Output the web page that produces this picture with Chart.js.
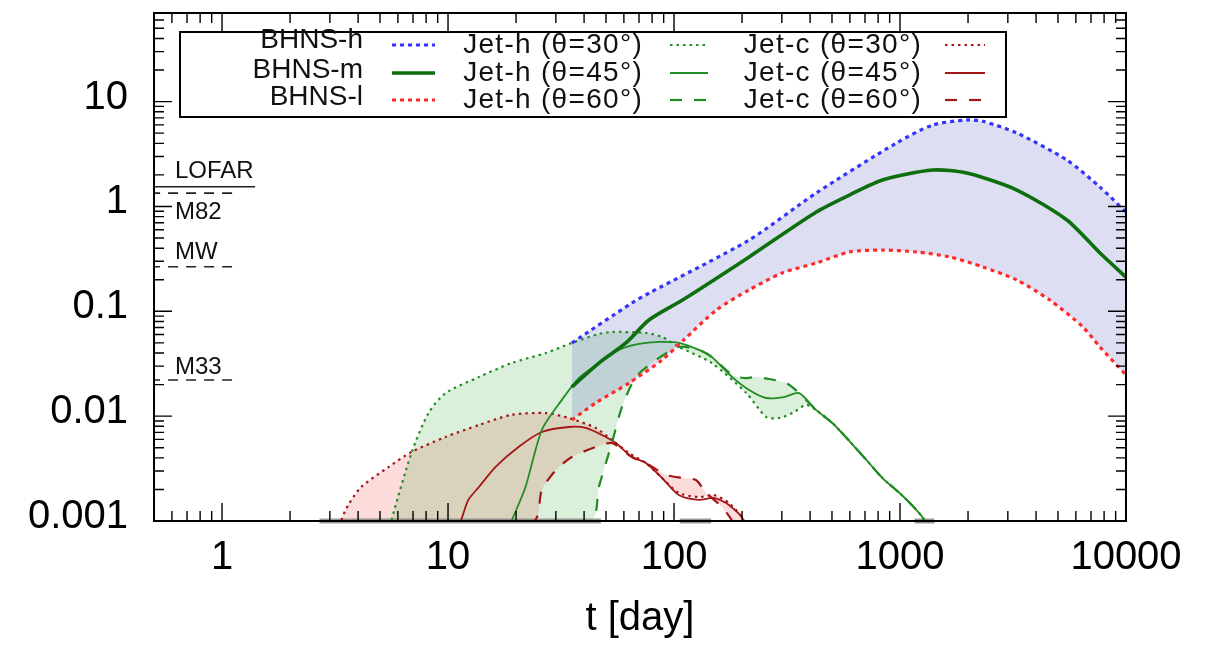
<!DOCTYPE html>
<html><head><meta charset="utf-8">
<script src="https://cdn.jsdelivr.net/npm/chart.js@4.4.1/dist/chart.umd.min.js"></script>
<style>html,body{margin:0;padding:0;background:#fff}canvas{display:block}</style>
</head><body>
<canvas id="c" width="1214" height="646"></canvas>
<script>
// ---------- data ----------
const xTickValues = [1, 10, 100, 1000, 10000];
const xTickLabels = ['1', '10', '100', '1000', '10000'];
const yTickValues = [0.001, 0.01, 0.1, 1, 10];
const yTickLabels = ['0.001', '0.01', '0.1', '1', '10'];

const bhnsH_t = [35.3, 65.1, 77.5, 215, 426, 965, 1394, 1972, 2322, 3286, 5474, 7669, 10000];
const bhnsH_v = [0.0499, 0.120, 0.149, 0.479, 1.344, 4.03, 5.98, 6.68, 6.5, 5.02, 2.77, 1.53, 0.885];

const bhnsM_t = [35.3, 46.5, 61.3, 77.5, 109, 215, 426, 597, 836, 1394, 1972, 3286, 5474, 7669, 10000];
const bhnsM_v = [0.019, 0.0321, 0.0499, 0.0826, 0.128, 0.330, 0.885, 1.285, 1.788, 2.226, 2.084, 1.435, 0.743, 0.36, 0.212];

const bhnsL_t = [35.3, 45.1, 63.2, 88.5, 110, 154, 215, 301, 426, 597, 836, 1184, 1658, 2322, 3286, 4603, 6446, 7669, 10000];
const bhnsL_v = [0.00919, 0.0134, 0.0207, 0.0343, 0.053, 0.103, 0.160, 0.232, 0.289, 0.368, 0.384, 0.368, 0.330, 0.265, 0.199, 0.128, 0.0709, 0.0457, 0.0247];

const jetH30_t = [5.5, 5.62, 5.73, 6.89, 8.19, 9.75, 13.7, 19.1, 27.1, 35.3, 46.5, 53.1, 75.1, 88.5, 105, 147, 209, 256, 292, 334, 385, 426, 502, 597, 710, 836, 995, 1160, 1284, 1330];
const jetH30_v = [0.0005, 0.001, 0.00119, 0.00445, 0.0107, 0.0166, 0.0236, 0.0321, 0.040, 0.0499, 0.0608, 0.0635, 0.0621, 0.0569, 0.0457, 0.0321, 0.0166, 0.0098, 0.0096, 0.0107, 0.0128, 0.0114, 0.0086, 0.00579, 0.00382, 0.00257, 0.00185, 0.00133, 0.001, 0.0005];

const jetH45_t = [19.1, 22.0, 26.0, 31.9, 37.9, 46.5, 57.0, 70.0, 85.8, 105, 129, 147, 181, 215, 256, 307, 358, 426, 502, 597, 710, 836, 995, 1160, 1284, 1330];
const jetH45_v = [0.001, 0.0021, 0.00738, 0.0143, 0.0231, 0.0321, 0.0428, 0.0488, 0.051, 0.0499, 0.0428, 0.0367, 0.0236, 0.0178, 0.0149, 0.0152, 0.0166, 0.0114, 0.0086, 0.00579, 0.00382, 0.00257, 0.00185, 0.00133, 0.001, 0.0005];

const jetH60_t = [5.5, 42.8, 46.5, 53.1, 58.8, 67.8, 83.2, 105, 129, 147, 181, 204, 231, 264, 314, 358, 426, 502, 597, 710, 836, 995, 1160, 1284, 1330];
const jetH60_v = [0.0005, 0.001, 0.00211, 0.00555, 0.0122, 0.0236, 0.0343, 0.0457, 0.0428, 0.0367, 0.0247, 0.0231, 0.0236, 0.0226, 0.0207, 0.0166, 0.0114, 0.0086, 0.00579, 0.00382, 0.00257, 0.00185, 0.00133, 0.001, 0.0005];

const jetC30_t = [3.3, 3.37, 3.62, 4.13, 5.45, 6.89, 9.75, 13.7, 19.1, 27.1, 34.2, 45.1, 53.1, 63.2, 75.1, 88.5, 105, 129, 150, 175, 204, 210];
const jetC30_v = [0.0005, 0.001, 0.00142, 0.00211, 0.00327, 0.00455, 0.00633, 0.00823, 0.0103, 0.0107, 0.0096, 0.00771, 0.00592, 0.00445, 0.00357, 0.00257, 0.00185, 0.00169, 0.00177, 0.00148, 0.001, 0.0005];

const jetC45_t = [11.4, 12.3, 13.7, 16.2, 20.5, 26.0, 34.2, 40.7, 49.9, 55.3, 65.1, 75.1, 88.5, 105, 129, 150, 175, 204, 210];
const jetC45_v = [0.001, 0.00159, 0.00211, 0.00327, 0.00508, 0.00706, 0.00788, 0.00771, 0.00633, 0.00555, 0.00408, 0.00357, 0.00257, 0.00177, 0.00159, 0.00166, 0.00142, 0.001, 0.0005];

const jetC60_t = [3.3, 23.9, 26.0, 30.0, 35.3, 45.1, 53.1, 65.1, 77.5, 92.2, 109, 125, 139, 163, 181, 210];
const jetC60_v = [0.0005, 0.001, 0.00198, 0.00306, 0.00408, 0.00508, 0.00555, 0.00408, 0.00342, 0.00275, 0.00257, 0.00246, 0.00185, 0.00136, 0.001, 0.0005];

// sensitivity reference levels (left side)
const refNames = ['LOFAR', 'M82', 'MW', 'M33'];
const refValues = [1.54, 1.34, 0.266, 0.0221];
const refEndT = [1.40, 1.13, 1.13, 1.13];

// segments where curves run along the lower boundary
const edgeStartT = [2.7, 106, 1160];
const edgeEndT = [47.5, 146, 1420];

const seriesNames = ['BHNS-h', 'BHNS-m', 'BHNS-l',
  'Jet-h (θ=30°)', 'Jet-h (θ=45°)', 'Jet-h (θ=60°)',
  'Jet-c (θ=30°)', 'Jet-c (θ=45°)', 'Jet-c (θ=60°)'];

// ---------- build ----------
const FONT = "'Liberation Sans', Arial, Helvetica, sans-serif";
const pts = (t, v) => t.map((x, i) => ({x: x, y: v[i]}));
const BLUE = '#3434fb', RED = '#ff2b2b', DKGREEN = '#0d6f0d', GREEN = '#218c21', DKRED = '#a51616';
const DOT = [4, 4], FINEDOT = [2.5, 4], DASH = [12, 12];

function line(label, t, v, color, width, dash, extra) {
  return Object.assign({
    label: label, data: pts(t, v), borderColor: color, backgroundColor: color,
    borderWidth: width, borderDash: dash, pointRadius: 0, fill: false, tension: 0.25
  }, extra || {});
}

const datasets = [
  line(seriesNames[0], bhnsH_t, bhnsH_v, BLUE, 3.2, DOT, {fill: {target: 2}, backgroundColor: 'rgba(60,60,185,0.17)'}),
  line(seriesNames[1], bhnsM_t, bhnsM_v, DKGREEN, 3.6, []),
  line(seriesNames[2], bhnsL_t, bhnsL_v, RED, 3.2, DOT),
  line(seriesNames[3], jetH30_t, jetH30_v, GREEN, 2.2, FINEDOT, {fill: {target: 5}, backgroundColor: 'rgba(0,150,0,0.14)'}),
  line(seriesNames[4], jetH45_t, jetH45_v, GREEN, 1.8, []),
  line(seriesNames[5], jetH60_t, jetH60_v, GREEN, 2.2, DASH),
  line(seriesNames[6], jetC30_t, jetC30_v, DKRED, 2.2, FINEDOT, {fill: {target: 8}, backgroundColor: 'rgba(235,0,0,0.14)'}),
  line(seriesNames[7], jetC45_t, jetC45_v, DKRED, 1.8, []),
  line(seriesNames[8], jetC60_t, jetC60_v, DKRED, 2.2, DASH)
];
refNames.forEach((n, i) => {
  datasets.push(line(n, [0.4, refEndT[i]], [refValues[i], refValues[i]], '#222', 1.6, i === 0 ? [] : [10, 8], {tension: 0}));
});
const edgeData = [];
edgeStartT.forEach((s, i) => {
  edgeData.push({x: s, y: 0.001}, {x: edgeEndT[i], y: 0.001}, {x: edgeEndT[i], y: null});
});
datasets.push({label: 'edge', data: edgeData, borderColor: 'rgba(120,120,120,0.75)', borderWidth: 5,
  pointRadius: 0, fill: false, tension: 0, spanGaps: false, clip: 6});

// ---------- gnuplot-like decorations ----------
const legendRows = [45, 73, 100];
const legendNameRows = [40, 70, 97];
const legendTextRight = [363, 643, 922];
const legendSample = [[392, 435], [670, 708], [945, 985]];
const refLabelOffset = [-15, 19, -14, -13];

const gnuPlugin = {
  id: 'gnu',
  afterDatasetsDraw(chart) {
    const {ctx, chartArea: a, scales} = chart;
    const xs = scales.x, ys = scales.y;
    ctx.save();
    // tick marks (inward, mirrored)
    ctx.strokeStyle = '#000';
    ctx.lineWidth = 1.4;
    ctx.beginPath();
    for (let e = -1; e <= 4; e++) for (let m = 1; m <= 9; m++) {
      const v = m * Math.pow(10, e);
      if (v < 0.5 - 1e-9 || v > 10000 + 1e-6) continue;
      const px = xs.getPixelForValue(v);
      const len = m === 1 ? 18 : 10;
      ctx.moveTo(px, a.bottom); ctx.lineTo(px, a.bottom - len);
      ctx.moveTo(px, a.top); ctx.lineTo(px, a.top + len);
    }
    for (let e = -3; e <= 1; e++) for (let m = 1; m <= 9; m++) {
      const v = m * Math.pow(10, e);
      if (v > ys.max + 1e-9) continue;
      const py = ys.getPixelForValue(v);
      const len = m === 1 ? 18 : 10;
      ctx.moveTo(a.left, py); ctx.lineTo(a.left + len, py);
      ctx.moveTo(a.right, py); ctx.lineTo(a.right - len, py);
    }
    ctx.stroke();
    // frame
    ctx.lineWidth = 2;
    ctx.strokeRect(a.left, a.top, a.right - a.left, a.bottom - a.top);
    // reference labels
    ctx.fillStyle = '#111';
    ctx.font = '24px ' + FONT;
    ctx.textAlign = 'left';
    ctx.textBaseline = 'middle';
    refNames.forEach((n, i) => {
      ctx.fillText(n, 175, ys.getPixelForValue(refValues[i]) + refLabelOffset[i]);
    });
    // legend box
    ctx.fillStyle = '#fff';
    ctx.fillRect(180, 32, 826, 85);
    ctx.lineWidth = 2;
    ctx.strokeStyle = '#000';
    ctx.strokeRect(180, 32, 826, 85);
    for (let i = 0; i < 9; i++) {
      const col = Math.floor(i / 3), row = i % 3;
      const d = chart.data.datasets[i];
      ctx.fillStyle = '#111';
      ctx.textAlign = 'right';
      ctx.textBaseline = 'middle';
      ctx.font = '28px ' + FONT;
      if (col === 0) {
        ctx.letterSpacing = '0px';
        ctx.fillText(seriesNames[i], legendTextRight[col], legendNameRows[row]);
      } else {
        ctx.letterSpacing = '1.3px';
        ctx.fillText(seriesNames[i], legendTextRight[col], legendRows[row]);
      }
      ctx.letterSpacing = '0px';
      ctx.beginPath();
      ctx.strokeStyle = d.borderColor;
      ctx.lineWidth = d.borderWidth;
      ctx.setLineDash(d.borderDash || []);
      ctx.moveTo(legendSample[col][0], legendRows[row]);
      ctx.lineTo(legendSample[col][1], legendRows[row]);
      ctx.stroke();
      ctx.setLineDash([]);
    }
    ctx.restore();
  }
};

new Chart(document.getElementById('c'), {
  type: 'line',
  data: {datasets: datasets},
  options: {
    responsive: false,
    animation: false,
    devicePixelRatio: 1,
    layout: {padding: {left: 0, right: 88, top: 13, bottom: 0}},
    plugins: {legend: {display: false}, tooltip: {enabled: false}, filler: {drawTime: 'beforeDatasetsDraw'}},
    scales: {
      x: {
        type: 'logarithmic', min: 0.5, max: 10000,
        afterFit: s => { s.height = 125; s.paddingLeft = 0; s.paddingRight = 0; },
        afterBuildTicks: s => { s.ticks = xTickValues.map(v => ({value: v})); },
        grid: {display: false, drawTicks: false},
        border: {display: false},
        ticks: {
          autoSkip: false, maxRotation: 0, padding: 13, color: '#000',
          font: {family: FONT, size: 40},
          callback: v => { const i = xTickValues.indexOf(v); return i >= 0 ? xTickLabels[i] : ''; }
        },
        title: {display: true, text: 't [day]', color: '#000', font: {family: FONT, size: 40}, padding: {top: 0, bottom: 3}}
      },
      y: {
        type: 'logarithmic', min: 0.001, max: 70,
        afterFit: s => { s.width = 154; s.paddingTop = 0; s.paddingBottom = 0; },
        afterBuildTicks: s => { s.ticks = yTickValues.map(v => ({value: v})); },
        grid: {display: false, drawTicks: false},
        border: {display: false},
        ticks: {
          autoSkip: false, padding: 26, color: '#000', labelOffset: -4,
          font: {family: FONT, size: 40},
          callback: v => { const i = yTickValues.indexOf(v); return i >= 0 ? yTickLabels[i] : ''; }
        }
      }
    }
  },
  plugins: [gnuPlugin]
});
</script>
</body></html>
